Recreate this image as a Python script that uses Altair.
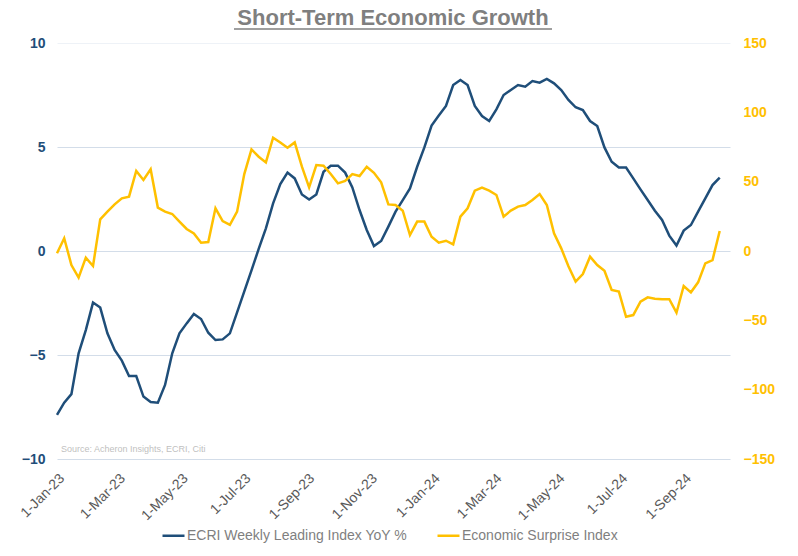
import altair as alt
import pandas as pd

# ---- data ----
series_names = ["ECRI Weekly Leading Index YoY %", "Economic Surprise Index"]
series_colors = ["#1F4E79", "#FFC000"]

start_date = "2023-01-01"
n_weeks = 93

ecri = [-7.88, -7.29, -6.88, -4.92, -3.80, -2.48, -2.72, -3.96, -4.76, -5.27, -6.01, -6.01, -7.00,
        -7.26, -7.29, -6.44, -4.92, -3.96, -3.48, -3.03, -3.27, -3.93, -4.28, -4.25, -3.96,
        -2.95, -1.94, -0.93, 0.10, 1.09, 2.29, 3.22, 3.77, 3.49, 2.72, 2.48, 2.72, 3.81, 4.10,
        4.10, 3.77, 3.06, 1.97, 1.01, 0.24, 0.48, 1.17, 1.89,
        2.45, 3.01, 4.05, 4.98, 6.03, 6.51, 6.97, 7.98, 8.22, 7.98, 6.97, 6.49, 6.25, 6.81,
        7.50, 7.74, 7.98, 7.90, 8.17, 8.09, 8.27, 8.06, 7.74, 7.26,
        6.91, 6.78, 6.25, 6.01, 4.98, 4.29, 4.01, 4.01, 3.49, 2.96, 2.45, 1.94, 1.49, 0.74,
        0.26, 0.98, 1.25, 1.89, 2.53, 3.17, 3.53]

esi = [-1.6, 9.2, -10.1, -19.2, -4.8, -10.8, 22.8, 28.4, 33.6, 38.0, 39.2, 57.7, 51.2, 59.0,
       31.3, 28.4, 26.7, 21.2, 15.9, 12.7, 6.0, 6.5, 30.8, 21.6, 18.8,
       28.4, 55.5, 73.3, 68.0, 63.9, 81.7, 78.3, 74.5, 78.3, 60.8, 45.9, 62.0, 61.5, 55.5,
       48.8, 50.5, 55.5, 54.1, 60.8, 56.4, 49.5, 33.6, 33.2,
       29.1, 11.5, 21.2, 21.2, 10.3, 6.0, 7.4, 4.8, 24.8, 30.8, 43.5, 45.7, 43.5, 40.4,
       24.8, 29.1, 32.0, 33.2, 36.8, 41.1, 33.2, 12.7, 1.9, -11.0,
       -22.1, -16.6, -4.1, -10.1, -14.2, -28.1, -29.3, -47.4, -46.2, -36.5, -33.4, -34.4,
       -34.8, -34.8, -44.5, -25.2, -29.8, -22.6, -8.9, -6.5, 14.4]

left_ticks = [-10, -5, 0, 5, 10]
right_ticks = [-150, -100, -50, 0, 50, 100, 150]
x_tick_months = [(2023, 1), (2023, 3), (2023, 5), (2023, 7), (2023, 9), (2023, 11),
                 (2024, 1), (2024, 3), (2024, 5), (2024, 7), (2024, 9)]

title_text = "Short-Term Economic Growth"
source_text = "Source: Acheron Insights, ECRI, Citi"

dates = pd.date_range(start_date, periods=n_weeks, freq="7D")
df = pd.DataFrame({"date": dates, "ecri": ecri, "esi": esi})

FONT = "Liberation Sans"

x_enc = alt.X(
    "date:T",
    title=None,
    scale=alt.Scale(domain=[alt.DateTime(year=2023, month=1, date=1),
                            alt.DateTime(year=2024, month=10, date=16)]),
    axis=alt.Axis(
        values=[alt.DateTime(year=y, month=m, date=1) for y, m in x_tick_months],
        format="%-d-%b-%y",
        labelAngle=-45,
        labelFont=FONT,
        labelFontSize=14,
        labelColor="#595959",
        labelPadding=12,
        domain=False,
        ticks=False,
        grid=False,
    ),
)

color_scale = alt.Scale(domain=series_names, range=series_colors)
legend = alt.Legend(
    title=None,
    orient="none",
    legendX=104,
    legendY=480,
    direction="horizontal",
    symbolType="stroke",
    symbolSize=484,
    symbolStrokeWidth=2.5,
    labelFont=FONT,
    labelFontSize=14,
    labelColor="#7F7F7F",
    labelOffset=1,
    labelLimit=400,
    columnPadding=24,
    padding=0,
)

base = alt.Chart(df)

line_ecri = base.transform_calculate(series=f"'{series_names[0]}'").mark_line(strokeWidth=2.5).encode(
    x=x_enc,
    y=alt.Y(
        "ecri:Q",
        title=None,
        scale=alt.Scale(domain=[-10, 10], nice=False, zero=False),
        axis=alt.Axis(
            orient="left",
            values=left_ticks,
            labelFont=FONT,
            labelFontSize=14,
            labelFontWeight="bold",
            labelColor="#1F4E79",
            labelPadding=12,
            domain=False,
            ticks=False,
            grid=True,
            gridColor={"condition": {"test": "datum.value === 10", "value": "#EEF2F7"},
                       "value": "#D3DDE9"},
            gridWidth=1,
        ),
    ),
    color=alt.Color("series:N", scale=color_scale, legend=legend),
)

line_esi = base.transform_calculate(series=f"'{series_names[1]}'").mark_line(strokeWidth=2.5).encode(
    x=x_enc,
    y=alt.Y(
        "esi:Q",
        title=None,
        scale=alt.Scale(domain=[-150, 150], nice=False, zero=False),
        axis=alt.Axis(
            orient="right",
            values=right_ticks,
            labelFont=FONT,
            labelFontSize=14,
            labelFontWeight="bold",
            labelColor="#FFC000",
            labelPadding=13,
            domain=False,
            ticks=False,
            grid=False,
        ),
    ),
    color=alt.Color("series:N", scale=color_scale, legend=legend),
)

source = alt.Chart(pd.DataFrame({"t": [source_text]})).mark_text(
    font=FONT, fontSize=9, color="#BFBFBF", align="left", baseline="middle"
).encode(text="t:N", x=alt.value(4), y=alt.value(406))

title = alt.Chart(pd.DataFrame({"t": [title_text]})).mark_text(
    font=FONT, fontSize=22, fontWeight="bold", color="#7F7F7F",
    align="center", baseline="alphabetic"
).encode(text="t:N", x=alt.value(336), y=alt.value(-18))

underline = alt.Chart(pd.DataFrame({"a": [0]})).mark_rule(
    color="#7F7F7F", strokeWidth=1.5
).encode(x=alt.value(177), x2=alt.value(495), y=alt.value(-14))

chart = (
    alt.layer(line_ecri, line_esi, source, title, underline)
    .resolve_scale(y="independent")
    .properties(
        width=673,
        height=416,
        autosize=alt.AutoSizeParams(type="none"),
        padding={"left": 57, "top": 43, "right": 68, "bottom": 97},
        background="white",
    )
    .configure_view(stroke=None)
)

chart.save("out.html", embed_options={"renderer": "svg", "actions": False})
